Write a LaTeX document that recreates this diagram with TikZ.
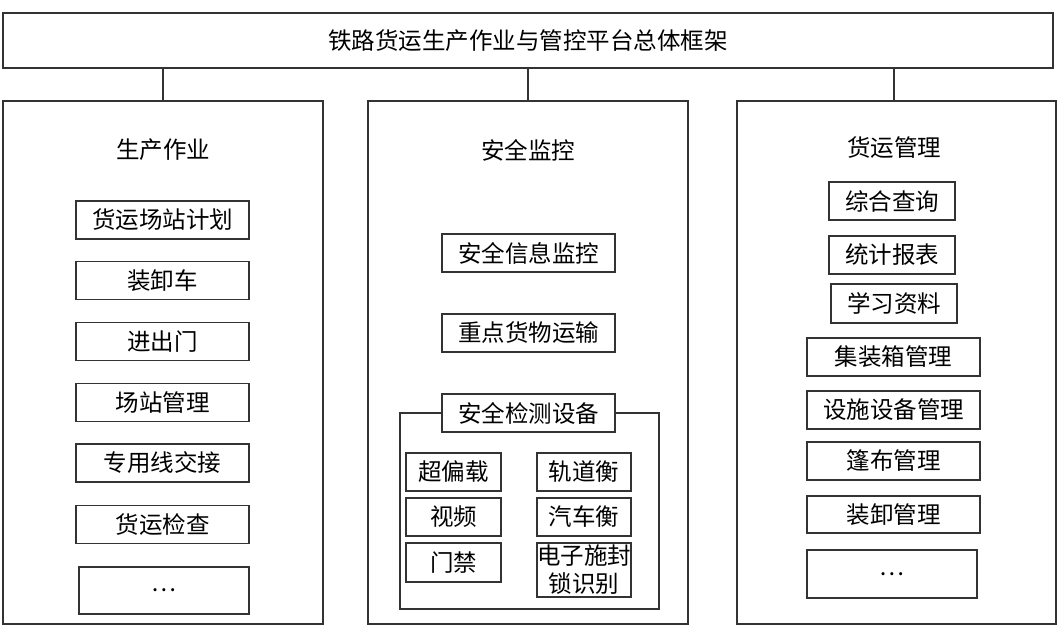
\documentclass[tikz,border=0pt]{standalone}
\usepackage{fontspec}
\setmainfont{Noto Sans CJK SC}

\begin{document}
\begin{tikzpicture}[x=1pt, y=-1pt,
        every node/.style={font=\fontsize{23.5}{28}\selectfont, inner sep=0pt},
        frame/.style={draw=black!80, line width=1.2pt},
        item/.style={frame, minimum width=173pt, minimum height=38pt}]
    \useasboundingbox (0,0) rectangle (1063,631);

    % top frame
    \node[frame, minimum width=1050pt, minimum height=55pt] (top) at (528,40.5) {铁路货运生产作业与管控平台总体框架};

    % three panels
    \node[frame, minimum width=320pt, minimum height=523pt] (prod) at (163,362.5) {};
    \node[frame, minimum width=320pt, minimum height=523pt] (safe) at (528,362.5) {};
    \node[frame, minimum width=319pt, minimum height=523pt] (mgmt) at (896.5,362.5) {};
    \node at (163,150) {生产作业};
    \node at (528,150) {安全监控};
    \node at (894,148) {货运管理};

    % links from the top frame
    \draw[frame] (top.south -| prod.north) -- (prod.north);
    \draw[frame] (top.south -| safe.north) -- (safe.north);
    \draw[frame] (894,68) coordinate (t3) -- (t3 |- mgmt.north);

    % production items
    \node[item] (p1) at (162.5,220) {货运场站计划};
    \node[item] (p2) at (162.5,280.5) {装卸车};
    \node[item] (p3) at (162.5,341.5) {进出门};
    \node[item] (p4) at (162.5,402.5) {场站管理};
    \node[item] (p5) at (162.5,463) {专用线交接};
    \node[item] (p6) at (162.5,524.5) {货运检查};
    \node[item, minimum width=170pt, minimum height=47pt] (p7) at (164,590.5) {…};

    % safety monitoring items
    \node[item] (s1) at (528.5,253) {安全信息监控};
    \node[item] (s2) at (528.5,333) {重点货物运输};
    \draw[frame] (400,413) rectangle (659,609);
    \node[item, fill=white] (s3) at (528.5,413) {安全检测设备};
    \node[item, minimum width=95pt] (d1) at (453.5,472) {超偏载};
    \node[item, minimum width=95pt] (d2) at (453.5,517) {视频};
    \node[item, minimum width=95pt, minimum height=39pt] (d3) at (453.5,562.5) {门禁};
    \node[item, minimum width=94pt] (d4) at (584,472) {轨道衡};
    \node[item, minimum width=94pt] (d5) at (584,517) {汽车衡};
    \node[item, minimum width=94pt, minimum height=54pt, align=center] (d6) at (584,570) {电子施封\\锁识别};

    % freight management items
    \node[item, minimum width=126pt] (m1) at (892,201) {综合查询};
    \node[item, minimum width=126pt] (m2) at (892,255) {统计报表};
    \node[item, minimum width=126pt, minimum height=39pt] (m3) at (894,303.5) {学习资料};
    \node[item] (m4) at (893.5,357) {集装箱管理};
    \node[item] (m5) at (893.5,410) {设施设备管理};
    \node[item] (m6) at (893.5,461) {篷布管理};
    \node[item, minimum height=37pt] (m7) at (893.5,514.5) {装卸管理};
    \node[item, minimum width=170pt, minimum height=48pt] (m8) at (892,574) {…};
\end{tikzpicture}
\end{document}
